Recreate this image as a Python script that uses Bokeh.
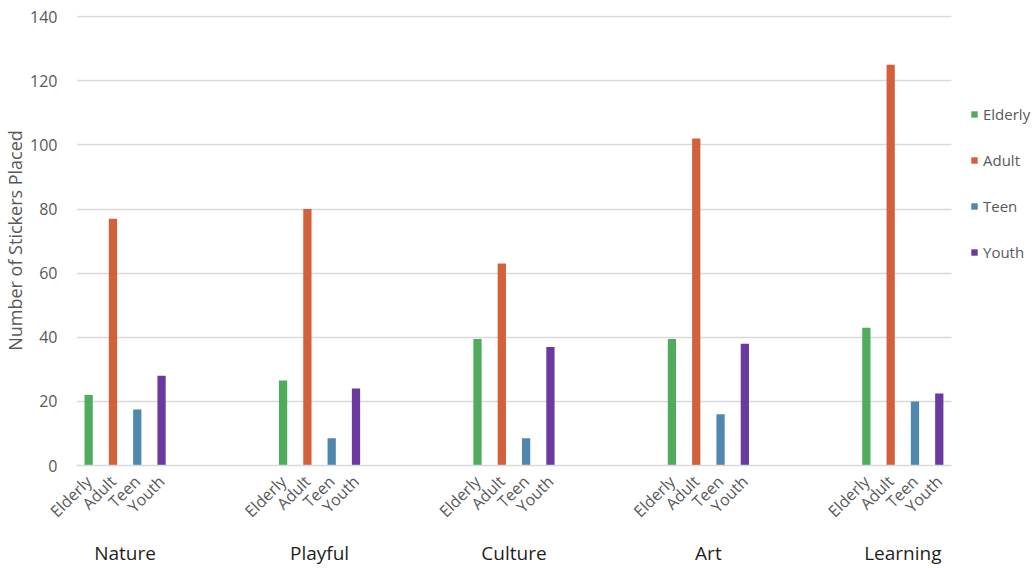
import math
from bokeh.plotting import figure
from bokeh.models import (ColumnDataSource, Legend, LegendItem, SingleIntervalTicker,
                          Range1d, FixedTicker, LinearAxis)
from bokeh.embed import file_html
from bokeh.resources import INLINE

categories = ["Nature", "Playful", "Culture", "Art", "Learning"]
groups = ["Elderly", "Adult", "Teen", "Youth"]
elderly = [22, 26.5, 39.5, 39.5, 43]
adult = [77, 80, 63, 102, 125]
teen = [17.5, 8.5, 8.5, 16, 20]
youth = [28, 24, 37, 38, 22.5]
colors = ["#50AC5C", "#D2603A", "#4F87AF", "#6B3AA0"]

series = [elderly, adult, teen, youth]
FONT = "Open Sans"

SLOTS = 8  # slots per category group: 4 bars + 4 blank
n_slots = (len(categories) - 1) * SLOTS + len(groups)

p = figure(x_range=Range1d(-0.5, n_slots - 0.5 + 3.5), y_range=Range1d(0, 140.4),
           width=1036, height=568, output_backend="svg", toolbar_location=None,
           min_border_left=75, min_border_top=15, min_border_right=0, min_border_bottom=103)
p.outline_line_color = None
p.background_fill_color = "white"
p.border_fill_color = "white"
p.xaxis.visible = False

items = []
sub_ticks, sub_labels = [], {}
for j, (g, vals, col) in enumerate(zip(groups, series, colors)):
    xs = [i * SLOTS + j for i in range(len(categories))]
    for x in xs:
        sub_ticks.append(x)
        sub_labels[x] = g
    src = ColumnDataSource(dict(x=xs, top=vals))
    r = p.vbar(x="x", top="top", width=0.34, source=src, fill_color=col, line_color=None)
    items.append(LegendItem(label=g, renderers=[r]))

# y axis
p.yaxis.ticker = SingleIntervalTicker(interval=20)
p.yaxis.axis_label = "Number of Stickers Placed"
p.yaxis.axis_label_text_font = FONT
p.yaxis.axis_label_text_font_style = "normal"
p.yaxis.axis_label_text_font_size = "18px"
p.yaxis.axis_label_text_color = "#595959"
p.yaxis.axis_label_standoff = 0
p.yaxis.major_label_text_font = FONT
p.yaxis.major_label_text_font_size = "16px"
p.yaxis.major_label_text_color = "#595959"
p.yaxis.major_label_standoff = 15
p.yaxis.axis_line_color = None
p.yaxis.major_tick_line_color = None
p.yaxis.minor_tick_line_color = None
p.yaxis.major_tick_out = 0
p.yaxis.major_tick_in = 0

p.ygrid.grid_line_color = "#d9d9d9"
p.ygrid.grid_line_width = 1.6
p.ygrid.cross_bounds = (-0.5, n_slots - 0.5)
p.xgrid.grid_line_color = None

# sub-category axis (rotated)
ax1 = LinearAxis(ticker=FixedTicker(ticks=sorted(sub_ticks)), major_label_overrides=sub_labels,
                 bounds=(-0.5, n_slots - 0.5))
ax1.major_label_orientation = math.pi / 4
ax1.major_label_text_font = FONT
ax1.major_label_text_font_size = "16px"
ax1.major_label_text_color = "#595959"
ax1.major_label_standoff = 13
ax1.axis_line_color = "#d9d9d9"
ax1.axis_line_width = 1.6
ax1.major_tick_line_color = None
ax1.minor_tick_line_color = None
ax1.major_tick_out = 0
ax1.major_tick_in = 0
p.add_layout(ax1, "below")

# category axis
cat_ticks = [i * SLOTS + (len(groups) - 1) / 2 for i in range(len(categories))]
ax2 = LinearAxis(ticker=FixedTicker(ticks=cat_ticks),
                 major_label_overrides={t: c for t, c in zip(cat_ticks, categories)})
ax2.major_label_text_font = FONT
ax2.major_label_text_font_size = "19px"
ax2.major_label_text_color = "#1f1f1f"
ax2.major_label_standoff = 7
ax2.axis_line_color = None
ax2.major_tick_line_color = None
ax2.minor_tick_line_color = None
ax2.major_tick_out = 0
ax2.major_tick_in = 0
p.add_layout(ax2, "below")

legend = Legend(items=items, location=(894, 203), orientation="vertical",
                padding=0, margin=0, spacing=26, label_height=20,
                glyph_height=8, glyph_width=8, label_standoff=5,
                background_fill_alpha=0, border_line_color=None,
                label_text_font=FONT, label_text_font_size="15px",
                label_text_color="#595959")
p.add_layout(legend)

open("out.html", "w").write(file_html(p, INLINE))
